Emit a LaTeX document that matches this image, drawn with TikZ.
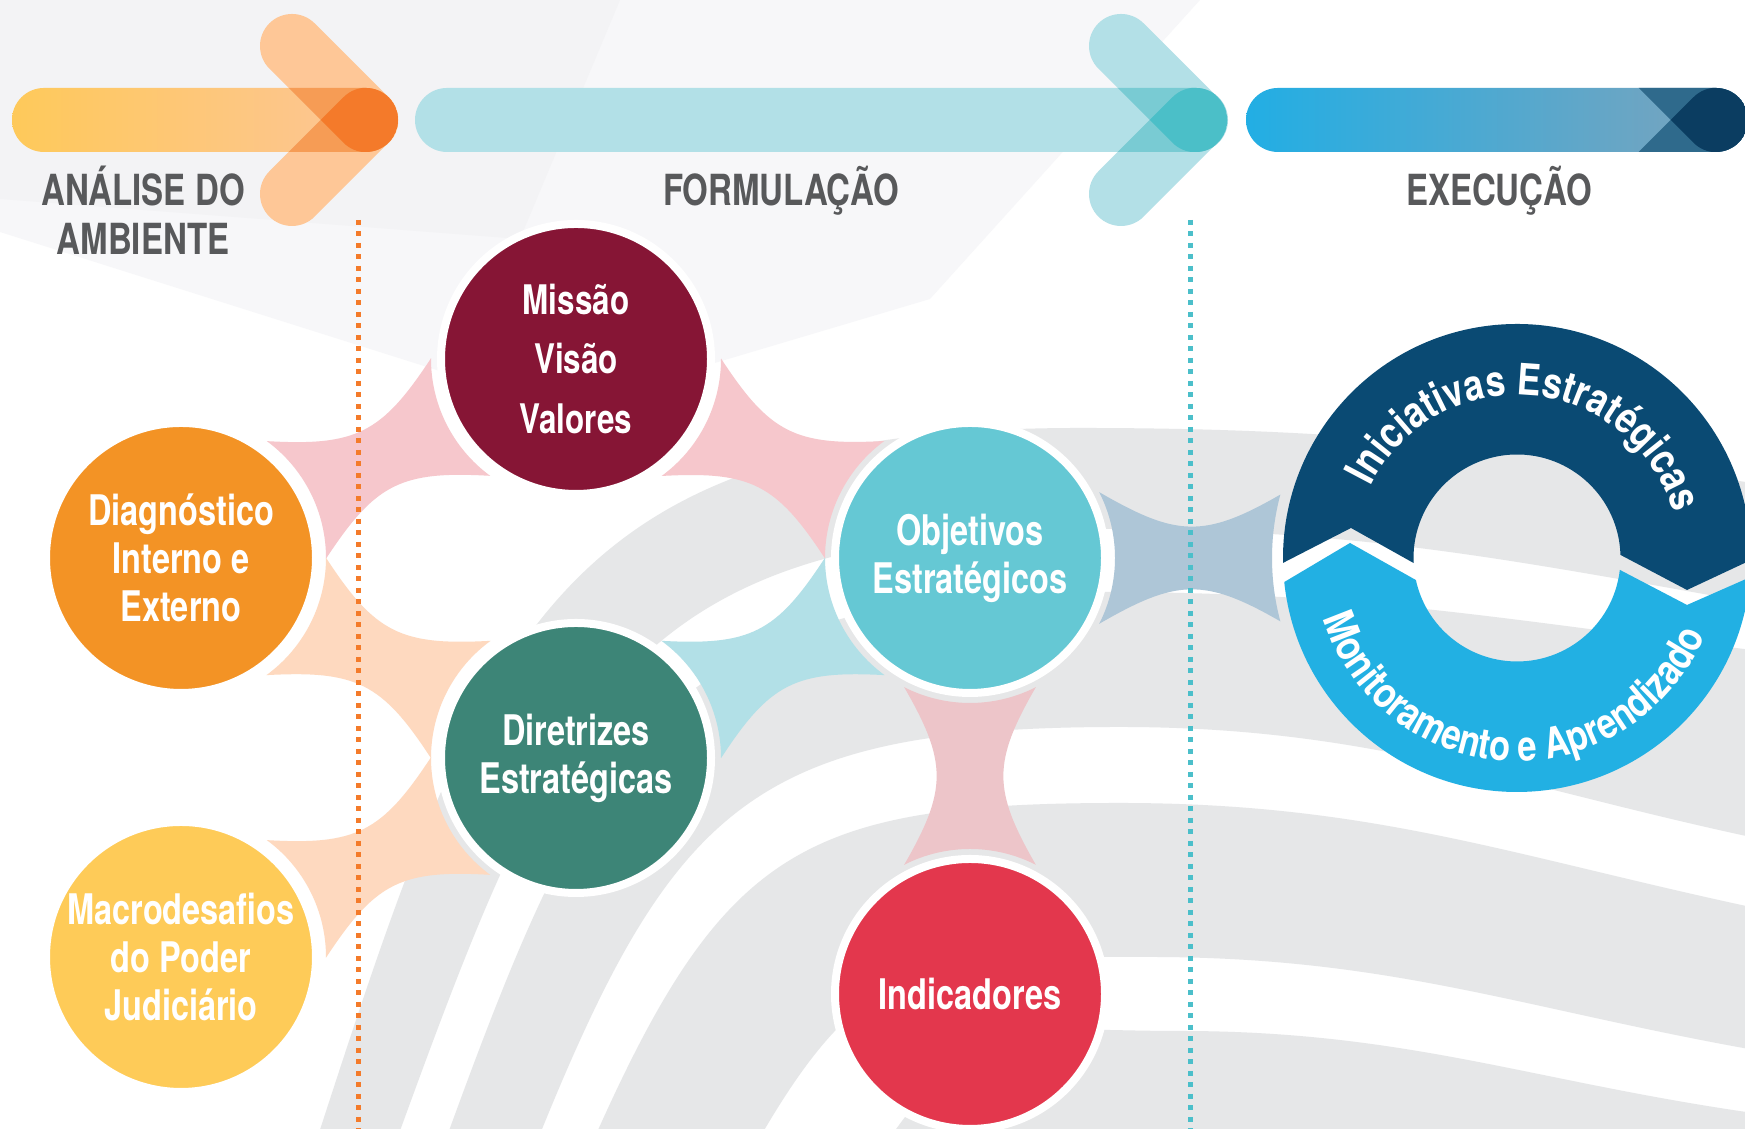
\documentclass[tikz,border=0pt]{standalone}
\usepackage{fontspec}
\newfontfamily\cfont{TeX Gyre Heros}[FakeStretch=0.77]
\newfontfamily\ringfont{TeX Gyre Heros}[FakeStretch=0.82]
\usetikzlibrary{calc,decorations.text}

\definecolor{wine}{HTML}{861535}
\definecolor{orangec}{HTML}{F39325}
\definecolor{yellowc}{HTML}{FECB58}
\definecolor{pine}{HTML}{3D8577}
\definecolor{aqua}{HTML}{65C8D4}
\definecolor{crimson}{HTML}{E3374D}
\definecolor{navy}{HTML}{0A4A73}
\definecolor{sky}{HTML}{22B0E3}
\definecolor{pinkc}{HTML}{F6C7CC}
\definecolor{peachc}{HTML}{FED9BF}
\definecolor{tealc}{HTML}{B2E0E7}
\definecolor{rosec}{HTML}{EDC5C9}
\definecolor{steelc}{HTML}{AEC6D7}
\definecolor{bandgray}{HTML}{E6E7E8}
\definecolor{fog}{HTML}{F7F7F9}
\definecolor{fogb}{HTML}{F3F3F5}
\definecolor{headgray}{HTML}{58595B}
\definecolor{dotO}{HTML}{F47B2A}
\definecolor{dotT}{HTML}{4BBFCA}
\definecolor{barA}{HTML}{FEC95A}
\definecolor{barB}{HTML}{FDC59B}
\definecolor{armO}{HTML}{FEC797}
\definecolor{armOmid}{HTML}{F69C55}
\definecolor{armOdark}{HTML}{F47A2A}
\definecolor{armT}{HTML}{B3E0E7}
\definecolor{armTmid}{HTML}{79CBD3}
\definecolor{armTdark}{HTML}{4BBFC8}
\definecolor{blueA}{HTML}{22AEE4}
\definecolor{blueB}{HTML}{7FA3BB}
\definecolor{blueMid}{HTML}{2F6A8C}
\definecolor{blueDark}{HTML}{0B3D61}

\pgfdeclarelayer{back}
\pgfsetlayers{back,main}

% one arm of a chevron: start of the arm, direction, length
\newcommand{\armpath}[3]{(#1) ++({#2+90}:32) -- ++(#2:#3)
  arc[start angle=#2+90, delta angle=-180, radius=32] -- ++({#2+180}:#3)
  arc[start angle=#2-90, delta angle=-180, radius=32] -- cycle}

% link between two circles: from, to, angle, spread at target, radius at target, colour
\newcommand{\joint}[6]{%
  \pgfmathsetmacro\jaA{#3-27}\pgfmathsetmacro\jbA{#3+27}%
  \pgfmathsetmacro\jaB{#3+180-#4}\pgfmathsetmacro\jbB{#3+180+#4}%
  \pgfmathsetmacro\jout{#3-30}\pgfmathsetmacro\jin{#3+210}%
  \pgfmathsetmacro\kout{#3+150}\pgfmathsetmacro\kin{#3+30}%
  \fill[#6] ($(#1)+(\jaA:145)$) arc[start angle=\jaA, end angle=\jbA, radius=145]
    to[out=\jout, in=\jin, looseness=1.25] ($(#2)+(\jaB:#5)$)
    arc[start angle=\jaB, end angle=\jbB, radius=#5]
    to[out=\kout, in=\kin, looseness=1.25] ($(#1)+(\jaA:145)$) -- cycle;}

\begin{document}
\begin{tikzpicture}[x=0.1mm, y=0.1mm,
  bubble/.style={circle, fill=#1, draw=white, line width=0.8mm, minimum size=27mm,
    inner sep=0pt, text=white, align=center,
    font=\cfont\bfseries\fontsize{12}{13.7}\selectfont},
  head/.style={text=headgray, align=center,
    font=\cfont\bfseries\fontsize{12.2}{13.9}\selectfont},
  dotline/.style={draw=#1, line width=0.5mm, dash pattern=on 0.5mm off 0.65mm},
  band/.style={fill=bandgray}]
\useasboundingbox (0,0) rectangle (1745,1129);

% phase bars
\shade[left color=barA, right color=barB, rounded corners=3.2mm] (12,977) rectangle (398,1041);
\fill[armO] \armpath{292,1083}{-45}{105} \armpath{292,935}{45}{105};
\begin{scope}
  \clip[rounded corners=3.2mm] (12,977) rectangle (398,1041);
  \fill[armOmid] \armpath{292,1083}{-45}{105} \armpath{292,935}{45}{105};
  \clip \armpath{292,1083}{-45}{105};
  \fill[armOdark] \armpath{292,935}{45}{105};
\end{scope}

\fill[tealc, rounded corners=3.2mm] (415,977) rectangle (1228,1041);
\fill[armT] \armpath{1121,1083}{-45}{105} \armpath{1121,935}{45}{105};
\begin{scope}
  \clip[rounded corners=3.2mm] (415,977) rectangle (1228,1041);
  \fill[armTmid] \armpath{1121,1083}{-45}{105} \armpath{1121,935}{45}{105};
  \clip \armpath{1121,1083}{-45}{105};
  \fill[armTdark] \armpath{1121,935}{45}{105};
\end{scope}

\shade[left color=blueA, right color=blueB, rounded corners=3.2mm] (1246,977) rectangle (1748,1041);
\begin{scope}
  \clip[rounded corners=3.2mm] (1246,977) rectangle (1748,1041);
  \fill[blueMid] \armpath{1642,1083}{-45}{105} \armpath{1642,935}{45}{105};
  \clip \armpath{1642,1083}{-45}{105};
  \fill[blueDark] \armpath{1642,935}{45}{105};
\end{scope}

\node[head] (hana) at (143,919) {ANÁLISE DO\\AMBIENTE};
\node[head] (hfor) at (781,938) {FORMULAÇÃO};
\node[head] (hexe) at (1499,938) {EXECUÇÃO};

\draw[dotline=dotO] (358,909) -- (358,0);
\draw[dotline=dotT] (1190,909) -- (1190,0);

% circles
\node[bubble=wine, font=\cfont\bfseries\fontsize{11.6}{17}\selectfont] (mvv) at (576,770) {Missão\\Visão\\Valores};
\node[bubble=orangec] (diag) at (181,571) {Diagnóstico\\Interno e\\Externo};
\node[bubble=yellowc] (macro) at (181,172) {Macrodesafios\\do Poder\\Judiciário};
\node[bubble=pine] (dir) at (576,371) {Diretrizes\\Estratégicas};
\node[bubble=aqua] (obj) at (970,571) {Objetivos\\Estratégicos};
\node[bubble=crimson] (ind) at (970,135) {Indicadores};

% execution cycle
\coordinate (ring) at (1517,571);
\fill[navy] ($(ring)+(182.8:103.5)$) -- ($(ring)+(-166,30)$) -- ($(ring)+(181.2:234)$)
  arc[start angle=181.2, end angle=-0.5, radius=234] -- ($(ring)+(170,-32)$)
  -- ($(ring)+(1.7:103.5)$) arc[start angle=1.7, end angle=182.8, radius=103.5] -- cycle;
\fill[sky] ($(ring)+(192.3:103.5)$) -- ($(ring)+(-167,15)$) -- ($(ring)+(185.9:234)$)
  arc[start angle=185.9, end angle=355.3, radius=234] -- ($(ring)+(170,-47)$)
  -- ($(ring)+(353.4:103.5)$) arc[start angle=353.4, end angle=192.3, radius=103.5] -- cycle;
\path[decorate, decoration={text along path, text align=center, text color=white,
  text={|\ringfont\bfseries\fontsize{12.3}{14}\selectfont|Iniciativas Estratégicas}}]
  ($(ring)+(175:163)$) arc[start angle=175, end angle=-5, radius=163];
\path[decorate, decoration={text along path, text align=center, text color=white,
  text={|\ringfont\bfseries\fontsize{12}{14}\selectfont|Monitoramento e Aprendizado}}]
  ($(ring)+(180:203)$) arc[start angle=180, end angle=355, radius=203];

\begin{pgfonlayer}{back}
\fill[white] (0,0) rectangle (1745,1129);
\fill[fog] (0,1129) -- (1200,1129) -- (930,830) -- (560,720) -- (0,897) -- cycle;
\fill[fogb] (0,1129) -- (620,1129) -- (520,890) -- (0,930) -- cycle;
\fill[band] (317,-10) to[out=72,in=180,looseness=1.3] (1080,701) to[out=0,in=172] (1760,645)
  -- (1760,525) to[out=170,in=0] (1100,600) to[out=180,in=70,looseness=1.3] (397,-10) -- cycle;
\fill[band] (446,-10) to[out=70,in=180,looseness=1.3] (1100,537) to[out=0,in=173] (1760,478)
  -- (1760,290) to[out=168,in=0] (1120,402) to[out=180,in=68,looseness=1.3] (538,-10) -- cycle;
\fill[band] (594,-10) to[out=66,in=180,looseness=1.3] (1120,326) to[out=0,in=168] (1760,220)
  -- (1760,78) to[out=170,in=0] (1150,172) to[out=180,in=60,looseness=1.3] (759,-10) -- cycle;
\fill[band] (889,-10) to[out=55,in=180,looseness=1.3] (1180,98) to[out=0,in=172] (1760,15)
  -- (1760,-10) -- cycle;

\joint{diag}{mvv}{26.7}{27}{145}{pinkc}
\joint{mvv}{obj}{-26.8}{27}{145}{pinkc}
\joint{diag}{dir}{-26.9}{27}{145}{peachc}
\joint{macro}{dir}{26.7}{27}{145}{peachc}
\joint{dir}{obj}{26.9}{27}{145}{tealc}
\joint{obj}{ind}{-90}{27}{145}{rosec}
\joint{obj}{ring}{0}{15}{245}{steelc}
\end{pgfonlayer}
\end{tikzpicture}
\end{document}
